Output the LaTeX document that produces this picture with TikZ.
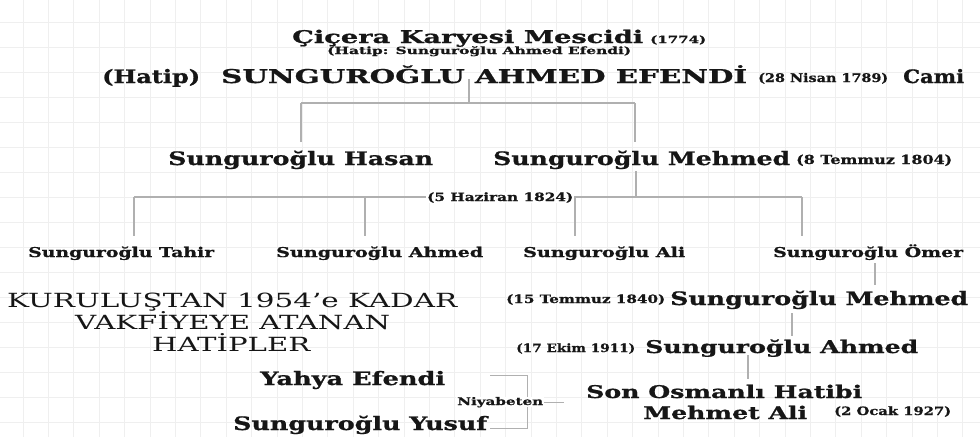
\documentclass[tikz,border=0pt]{standalone}
\usepackage{fontspec}
\usepackage{graphicx}
\setmainfont{DejaVu Serif}[BoldFeatures={FakeBold=0.8}]
\definecolor{conncol}{HTML}{B0B0B0}
\definecolor{gridcol}{HTML}{EFEFEF}
\definecolor{inkcol}{HTML}{161616}
\newcommand\fitw[3]{\resizebox{#1pt}{\height}{\fontsize{#2}{#2}\selectfont #3}}
\tikzset{
  lbl/.style={anchor=base west, inner sep=0pt, text=inkcol, font=\bfseries},
  plain/.style={anchor=base west, inner sep=0pt, text=inkcol, font=\mdseries},
  onbus/.style={lbl, fill=white, inner xsep=1pt},
  conn/.style={draw=conncol, line width=1.4pt},
  gridline/.style={draw=gridcol, line width=0.8pt}
}
\begin{document}
\begin{tikzpicture}[x=1pt,y=-1pt]
\useasboundingbox (0,0) rectangle (980,437);
\fill[white] (0,0) rectangle (980,437);
\foreach \i in {0,...,38} \draw[gridline] ({23+25.4*\i},0) -- ({23+25.4*\i},437);
\foreach \j in {0,...,17} \draw[gridline] (0,{22+25*\j}) -- (980,{22+25*\j});

% title
\node[lbl] (mescid) at (292,43) {\fitw{351}{17.5}{Çiçera Karyesi Mescidi}};
\node[lbl] (y1774) at (650,43) {\fitw{56}{10}{(1774)}};
\node[lbl] (hatip1) at (327,54) {\fitw{304}{10}{(Hatip: Sunguroğlu Ahmed Efendi)}};

% line 2
\node[lbl] (hatip2) at (102,83) {\fitw{98}{18.5}{(Hatip)}};
\node[lbl] (sung) at (221,83) {\fitw{526}{19}{SUNGUROĞLU AHMED EFENDİ}};
\node[lbl] (d1789) at (758,82) {\fitw{130}{12}{(28 Nisan 1789)}};
\node[lbl] (cami) at (903,83) {\fitw{61}{18.5}{Cami}};

% line 3
\node[lbl] (hasan) at (168,165) {\fitw{265}{18.5}{Sunguroğlu Hasan}};
\node[lbl] (mehmedA) at (493,165) {\fitw{297}{18.5}{Sunguroğlu Mehmed}};
\node[lbl] (d1804) at (796,164) {\fitw{156}{12.5}{(8 Temmuz 1804)}};

% line 4
\node[lbl] (tahir) at (28,257) {\fitw{186}{13.5}{Sunguroğlu Tahir}};
\node[lbl] (ahmedA) at (276,257) {\fitw{207}{13.5}{Sunguroğlu Ahmed}};
\node[lbl] (ali) at (523,257) {\fitw{162}{13.5}{Sunguroğlu Ali}};
\node[lbl] (omer) at (773,257) {\fitw{190}{13.5}{Sunguroğlu Ömer}};

% right chain
\node[lbl] (d1840) at (506,303) {\fitw{159}{11.5}{(15 Temmuz 1840)}};
\node[lbl] (mehmedB) at (670,305) {\fitw{298}{18.5}{Sunguroğlu Mehmed}};
\node[lbl] (d1911) at (516,352) {\fitw{119}{11.5}{(17 Ekim 1911)}};
\node[lbl] (ahmedB) at (645,353) {\fitw{273}{17.5}{Sunguroğlu Ahmed}};
\node[lbl] (son) at (586,398) {\fitw{276}{17.5}{Son Osmanlı Hatibi}};
\node[lbl] (mali) at (643,419) {\fitw{164}{17.5}{Mehmet Ali}};
\node[lbl] (d1927) at (834,415) {\fitw{117}{11.5}{(2 Ocak 1927)}};

% left block
\node[plain] (kur1) at (7,307) {\fitw{450}{19.5}{KURULUŞTAN 1954’e KADAR}};
\node[plain] (kur2) at (75,329) {\fitw{315}{19.5}{VAKFİYEYE ATANAN}};
\node[plain] (kur3) at (152,351) {\fitw{158}{19.5}{HATİPLER}};

\node[lbl] (yahya) at (260,385) {\fitw{185}{18.5}{Yahya Efendi}};
\node[lbl] (yusuf) at (233,430) {\fitw{254}{18.5}{Sunguroğlu Yusuf}};

% connectors
\coordinate (b1) at (469,103);
\coordinate (b1l) at (301,103);
\coordinate (b1r) at (635,103);
\draw[conn] ([yshift=4pt]sung.south -| b1) -- (b1);
\draw[conn] (b1l) -- (b1r);
\draw[conn] (b1l) -- ([yshift=8pt]hasan.north -| b1l);
\draw[conn] (b1r) -- ([yshift=8pt]mehmedA.north -| b1r);

\coordinate (b2) at (636,197);
\coordinate (v1) at (134,197);
\coordinate (v2) at (365,197);
\coordinate (v3) at (575,197);
\coordinate (v4) at (802,197);
\draw[conn] ([yshift=-2pt]mehmedA.south -| b2) -- (b2);
\draw[conn] (v1) -- (v4);
\draw[conn] (v1) -- ([yshift=10pt]tahir.north -| v1);
\draw[conn] (v2) -- ([yshift=10pt]ahmedA.north -| v2);
\draw[conn] (v3) -- ([yshift=10pt]ali.north -| v3);
\draw[conn] (v4) -- ([yshift=8pt]omer.north -| v4);
\node[onbus] (d1824) at (426,201) {\fitw{146}{11.5}{(5 Haziran 1824)}};

\coordinate (v5) at (875,0);
\coordinate (v6) at (792,0);
\coordinate (v7) at (748,0);
\draw[conn] ([yshift=-3pt]omer.south -| v5) -- ([yshift=5pt]mehmedB.north -| v5);
\draw[conn] ([yshift=-4pt]mehmedB.south -| v6) -- ([yshift=3pt]ahmedB.north -| v6);
\draw[conn] ([yshift=2pt]ahmedB.south -| v7) -- ([yshift=6pt]son.north -| v7);

% bracket
\coordinate (k1) at (490,375);
\coordinate (k2) at (527,375);
\coordinate (k3) at (527,428);
\coordinate (k4) at (490,428);
\coordinate (k5) at (564,402);
\draw[conn, line width=1pt] (k1) -- (k2) -- (k3) -- (k4);
\node[onbus] (niy) at (456,405) {\fitw{86}{10.5}{Niyabeten}};
\draw[conn, line width=1pt] (niy.east |- k5) -- (k5);
\end{tikzpicture}
\end{document}
